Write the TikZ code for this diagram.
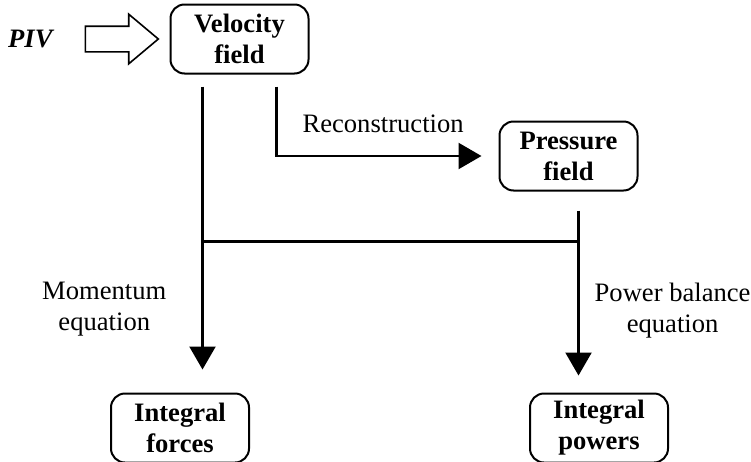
\documentclass[tikz,border=0pt]{standalone}
\usepackage{fontspec}
\setmainfont{Liberation Serif}
\usetikzlibrary{arrows.meta,positioning,shapes.arrows}

\begin{document}
\begin{tikzpicture}[x=1pt,y=-1pt,font=\fontsize{26.6}{31}\selectfont,line width=2pt]
  \tikzset{fieldbox/.style={draw, rounded corners=14pt, align=center, font=\fontsize{26.6}{31}\selectfont\bfseries, minimum width=138pt, minimum height=69pt, inner sep=0pt}}
  \tikzset{flowline/.style={line width=2.3pt, -{Triangle[length=23pt,width=26pt]}}}
  \tikzset{steplabel/.style={align=center, inner sep=0pt}}
  \useasboundingbox (0,0) rectangle (751,461);
  % boxes
  \node[fieldbox] (vel) at (239.5,39) {Velocity\\field};
  \node[fieldbox, below right=46pt and 189pt of vel] (prs) {Pressure\\field};
  \node[fieldbox, below=201pt of prs, xshift=30.5pt] (pwr) {Integral\\powers};
  \node[fieldbox, left=279pt of pwr] (fce) {Integral\\forces};
  % input
  \node[inner sep=0pt, font=\fontsize{26.6}{31}\selectfont\bfseries\itshape, left=116pt of vel] (piv) {PIV};
  \node[draw, single arrow, single arrow head extend=12pt, single arrow tip angle=80, minimum height=73pt, inner xsep=0pt, inner ysep=12pt, line width=1.6pt, right=31pt of piv] (feed) {};
  % connectors
  \coordinate (vL) at ([xshift=-37pt,yshift=-12pt]vel.south);
  \coordinate (vR) at ([xshift=37pt,yshift=-12pt]vel.south);
  \coordinate (pD) at ([xshift=10pt,yshift=-19pt]prs.south);
  \coordinate (jR) at ([yshift=-31pt]pD);
  \draw[flowline] (vR) |- ([xshift=-17pt]prs.west) node[steplabel, pos=0.76, above=22pt] {Reconstruction};
  \draw[flowline, shorten >=23pt] (vL) -- (vL |- fce.north) node[steplabel, pos=0.728, left=35pt] {Momentum\\equation};
  \draw[flowline, shorten >=17pt] (pD) -- (pD |- pwr.north) node[steplabel, pos=0.55, right=15pt] {Power balance\\equation};
  \draw[line width=2.3pt] (jR) -- (jR -| vL);
\end{tikzpicture}
\end{document}
